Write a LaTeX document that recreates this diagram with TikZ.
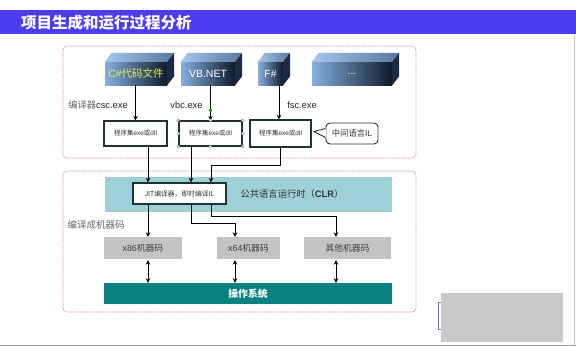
\documentclass[tikz,border=0pt]{standalone}
\usepackage{fontspec}
\setmainfont{Liberation Sans}
\newfontfamily\cjk{Noto Sans CJK SC}
\usetikzlibrary{calc,arrows.meta}
\newcommand\zhtxt[1]{{\cjk #1}}
\definecolor{titleblue}{HTML}{4B3CF0}
\definecolor{cubeL}{HTML}{86B0DE}
\definecolor{cubeR}{HTML}{0E1B2C}
\definecolor{cubeTopL}{HTML}{A8C6EA}
\definecolor{cubeTopR}{HTML}{5878A0}
\definecolor{cubeSide}{HTML}{1B2B44}
\definecolor{pinkline}{HTML}{E0909C}
\definecolor{clrband}{HTML}{9DD0D7}
\definecolor{osteal}{HTML}{0A8282}
\definecolor{mgray}{HTML}{C3C3C3}
\definecolor{boxline}{HTML}{1E3434}
\definecolor{csyellow}{HTML}{E2EE50}
\definecolor{purplebr}{HTML}{8070B0}
\begin{document}
\begin{tikzpicture}[x=1pt,y=-1pt,
  cubef/.style={left color=cubeL,right color=cubeR,minimum height=23pt,inner sep=0pt,text=white,font=\fontsize{10.5}{12}\selectfont},
  asmbox/.style={draw=boxline,line width=1.3pt,fill=white,minimum height=25pt,inner sep=0pt,font=\fontsize{6.5}{8}\selectfont,text=black!80},
  mbox/.style={fill=mgray,minimum height=22pt,inner sep=0pt,font=\fontsize{8.8}{10}\selectfont,text=black!75},
  lbl/.style={font=\fontsize{9.3}{11}\selectfont,text=black!85,inner sep=0pt},
  arr/.style={line width=1pt,-{Stealth[length=4.5pt,width=4.5pt]}},
  darr/.style={line width=1pt,{Stealth[length=4.5pt,width=4.5pt]}-{Stealth[length=4.5pt,width=4.5pt]}},
  pinkbox/.style={draw=pinkline,line width=0.7pt,rounded corners=4pt,dash pattern=on 1.5pt off 0.8pt},
  selhandle/.style={circle,draw=gray,fill=white,line width=0.4pt,inner sep=0pt,minimum size=3pt},
  topface/.style={left color=cubeTopL,right color=cubeTopR},
  sideface/.style={fill=cubeSide}
]
\useasboundingbox (0,0) rectangle (576,346);
\fill[white] (0,0) rectangle (576,346);
% title bar
\fill[titleblue] (0,10) rectangle (576,34);
\node[anchor=west,text=white,inner sep=0pt,font=\fontsize{15.5}{18}\selectfont\bfseries] (title) at (21,22.5) {\zhtxt{项目生成和运行过程分析}};
% frame lines
\draw[gray!45,line width=0.6pt] (574,34) -- (574,345);
\draw[gray!75,line width=1pt] (0,345) -- (576,345);
% pink group boxes
\draw[pinkbox] (63,46) rectangle (416,158);
\draw[pinkbox] (63,171) rectangle (416,312);
% cubes
\node[cubef,minimum width=62pt,text=csyellow,font=\fontsize{10.5}{12}\selectfont] (cs) at (136,73.5) {C\#\zhtxt{代码文件}};
\node[cubef,minimum width=54pt] (vb) at (208,73.5) {VB.NET};
\node[cubef,minimum width=25pt] (fs) at (270.5,73.5) {F\#};
\node[cubef,minimum width=80pt] (dots) at (352,73.5) {...};
\foreach \c in {cs,vb,fs,dots}{
  \shade[topface] (\c.north west) -- ++(7,-9) -- ($(\c.north east)+(7,-9)$) -- (\c.north east) -- cycle;
  \fill[sideface] (\c.north east) -- ++(7,-9) -- ($(\c.south east)+(7,-9)$) -- (\c.south east) -- cycle;
}
% compiler labels
\node[lbl] (lcsc) at (98,105) {\textcolor{black!60}{\zhtxt{编译器}}csc.exe};
\node[lbl] (lvbc) at (186.5,105) {vbc.exe};
\node[lbl] (lfsc) at (302,105) {fsc.exe};
% assembly boxes
\node[asmbox,minimum width=63pt] (b1) at (135.5,133.5) {\zhtxt{程序集}exe\zhtxt{或}dll};
\node[asmbox,minimum width=63pt,line width=1.1pt] (b2) at (210.5,133.5) {\zhtxt{程序集}exe\zhtxt{或}dll};
\node[asmbox,minimum width=61pt,minimum height=27pt] (b3) at (280.5,133.5) {\zhtxt{程序集}exe\zhtxt{或}dll};
% callout
\node[draw=boxline,line width=0.9pt,rounded corners=4pt,fill=white,minimum width=52pt,minimum height=21pt,inner sep=0pt,font=\fontsize{8.3}{10}\selectfont,text=black!80] (cl) at (352,133.5) {\zhtxt{中间语言}IL};
\coordinate (tip) at ($(b3.east)+(2,-2)$);
\fill[white] ($(cl.west)+(0.7,-5)$) -- (tip) -- ($(cl.west)+(0.7,4)$) -- cycle;
\draw[boxline,line width=0.9pt,line join=round] ($(cl.west)+(0,-5)$) -- (tip) -- ($(cl.west)+(0,4)$);
% arrows cubes -> boxes
\draw[arr] (b1.north |- cs.south) -- (b1.north);
\draw[arr] (b2.north |- vb.south) -- (b2.north);
\draw[arr] ($(b3.north |- fs.south)+(-1.5,0)$) -- ($(b3.north)+(-1.5,0)$);
% selection handles on b2
\foreach \a in {north,south,east,west,north east,south east,south west}{
  \node[selhandle] at (b2.\a) {};
}
\node[selhandle,fill=yellow!80!orange] at (b2.north west) {};
\node[selhandle,fill=green!70!black,draw=green!50!black] (rot) at ($(b2.north)+(0,-10)$) {};
% CLR
\node[fill=clrband,minimum width=287pt,minimum height=35pt,inner sep=0pt] (clr) at (248.5,194.5) {};
\node[inner sep=0pt,font=\fontsize{9.3}{11}\selectfont,text=black!80] (clrtxt) at (292,194) {\zhtxt{公共语言运行时（}\textbf{CLR}\zhtxt{）}};
\node[draw=boxline,line width=1.3pt,fill=white,minimum width=93pt,minimum height=21pt,inner sep=0pt,font=\fontsize{6.8}{8}\selectfont,text=black!80] (jit) at (179.5,193.5) {\zhtxt{JIT编译器，即时编译IL}};
% x-coordinates of connector lanes
\coordinate (xa) at (148,0);
\coordinate (xb) at (191,0);
\coordinate (xd) at (211,0);
\coordinate (xe) at (235,0);
\coordinate (xf) at (336,0);
% boxes -> JIT
\draw[arr] (b1.south -| xa) -- (jit.north -| xa);
\draw[arr] (b2.south -| xb) -- (jit.north -| xb);
\draw[arr] (b3.south) -- ++(0,18) -| (jit.north -| xd);
% label
\node[inner sep=0pt,font=\fontsize{9.5}{11}\selectfont,text=black!60] (lmc) at (96,225) {\zhtxt{编译成机器码}};
% machine code boxes
\node[mbox,minimum width=78pt] (x86) at (143,248) {x86\zhtxt{机器码}};
\node[mbox,minimum width=63pt] (x64) at (248.5,248) {x64\zhtxt{机器码}};
\node[mbox,minimum width=87pt] (oth) at (347.5,248) {\zhtxt{其他机器码}};
% JIT -> machine code
\draw[arr] (jit.south -| xa) -- (x86.north -| xa);
\draw[arr] (jit.south -| xb) -- ++(0,19) -| (x64.north -| xe);
\draw[arr] (jit.south -| xd) -- ++(0,12) -| (oth.north -| xf);
% OS
\node[fill=osteal,minimum width=288pt,minimum height=21pt,inner sep=0pt,text=white,font=\fontsize{9.8}{11}\selectfont\bfseries] (os) at (248,293.5) {\zhtxt{操作系统}};
\draw[darr] ($(x86.south -| xa)+(0,1)$) -- (os.north -| xa);
\draw[darr] ($(x64.south -| xe)+(0,1)$) -- (os.north -| xe);
\draw[darr] ($(oth.south -| xf)+(0,1)$) -- (os.north -| xf);
% grey box bottom right
\fill[gray!42] (441,293) rectangle (563,342);
\draw[purplebr,line width=0.8pt] (441,302) -- (438.5,302) -- (438.5,329) -- (441,329);
\end{tikzpicture}
\end{document}
